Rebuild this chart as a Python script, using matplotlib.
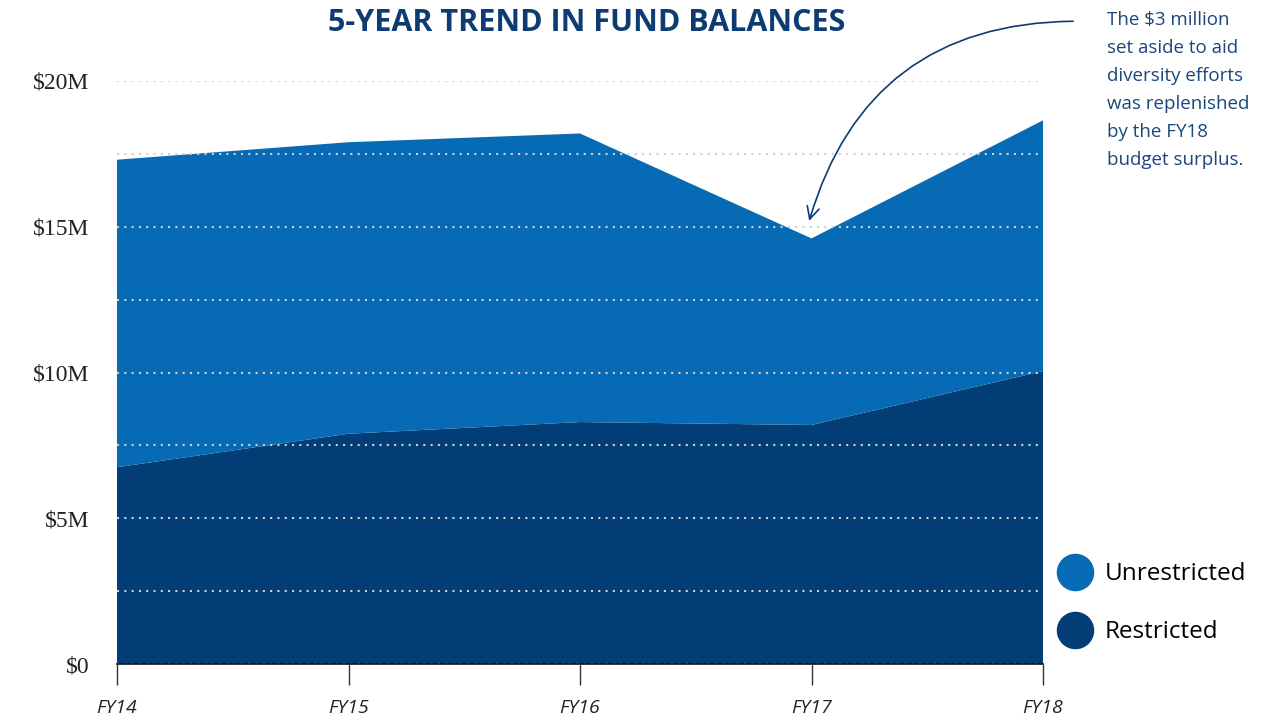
import matplotlib
matplotlib.use('Agg')
import matplotlib.pyplot as plt
from matplotlib.lines import Line2D

# Dados (milhões de dólares)
anos = ['FY14', 'FY15', 'FY16', 'FY17', 'FY18']
restrito = [6.75, 7.9, 8.3, 8.2, 10.05]
total = [17.3, 17.9, 18.2, 14.6, 18.65]
irrestrito = [t - r for t, r in zip(total, restrito)]
ticks_y = [0, 5, 10, 15, 20]
rotulos_y = ['$0', '$5M', '$10M', '$15M', '$20M']

cor_irrestrito = '#066bb4'
cor_restrito = '#023d76'
cor_titulo = '#0d3c73'

fig = plt.figure(figsize=(12.83, 7.22), dpi=100)
ax = fig.add_axes([117 / 1283, 58 / 722, 926 / 1283, 583 / 722])

x = range(len(anos))
ax.stackplot(x, restrito, irrestrito, colors=[cor_restrito, cor_irrestrito], linewidth=0)

ax.set_xlim(0, len(anos) - 1)
ax.set_ylim(0, 20)

# Grade pontilhada por cima das áreas
ax.set_yticks(ticks_y)
ax.set_yticks([2.5, 7.5, 12.5, 17.5], minor=True)
ax.set_yticklabels(rotulos_y, family='Liberation Serif', fontsize=17, color='#222222')
ax.tick_params(axis='y', which='both', length=0, pad=20)
ax.grid(axis='y', which='both', color='#d0d0d0', linestyle=(0, (1, 2.5)), linewidth=1.5)
ax.set_axisbelow(False)

ax.set_xticks(list(x))
ax.set_xticklabels(anos, style='italic', fontsize=14, color='#222222', family='Open Sans')
ax.tick_params(axis='x', length=15, width=1, color='#333333', pad=10)

for lado in ['left', 'right', 'top']:
    ax.spines[lado].set_visible(False)
ax.spines['bottom'].set_color('#111111')
ax.spines['bottom'].set_linewidth(1.2)
ax.spines['bottom'].set_zorder(5)

fig.text(587 / 1283, 1 - 23 / 722, '5-YEAR TREND IN FUND BALANCES', ha='center', va='center',
         fontsize=22, fontweight='bold', color=cor_titulo, family='Open Sans')

# Anotação
fig.text(1107 / 1283, 1 - 11 / 722,
         'The $3 million\nset aside to aid\ndiversity efforts\nwas replenished\nby the FY18\nbudget surplus.',
         ha='left', va='top', fontsize=13.5, color='#1b477c', family='Open Sans', linespacing=1.72)
ax.annotate('', xy=(2.99, 15.2), xytext=(4.13, 22.05), xycoords='data', textcoords='data',
            annotation_clip=False,
            arrowprops=dict(arrowstyle='->', color=cor_titulo, lw=1.2, mutation_scale=22,
                            connectionstyle='arc3,rad=0.37', shrinkA=0, shrinkB=0))

# Legenda
handles = [Line2D([], [], marker='o', linestyle='', markersize=26, color=cor_irrestrito),
           Line2D([], [], marker='o', linestyle='', markersize=26, color=cor_restrito)]
fig.legend(handles, ['Unrestricted', 'Restricted'], loc='upper left',
           bbox_to_anchor=(1034 / 1283, 1 - 545 / 722), frameon=False,
           prop={'family': 'Open Sans', 'size': 17.5}, labelspacing=1.4, handletextpad=0.2,
           borderpad=0.2)

fig.savefig('out.png', dpi=100)
